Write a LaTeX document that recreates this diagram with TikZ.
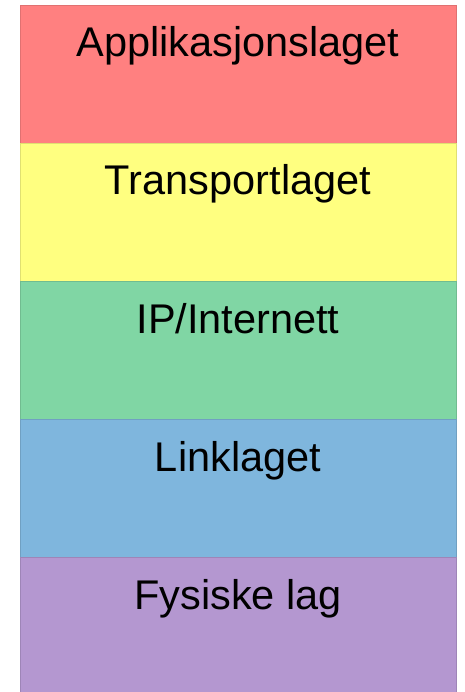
\documentclass[tikz,border=0pt]{standalone}
\usepackage{fontspec}
\setmainfont{Liberation Sans}
\usepackage{tikz}
\usetikzlibrary{positioning}
\definecolor{appc}{RGB}{255,128,128}
\definecolor{trpc}{RGB}{255,255,128}
\definecolor{ipc}{RGB}{128,214,164}
\definecolor{lnkc}{RGB}{127,182,221}
\definecolor{fysc}{RGB}{180,151,208}

\begin{document}
\begin{tikzpicture}[x=1pt,y=1pt,
  layer/.style={draw=#1!88!black,fill=#1,line width=0.4pt,minimum width=436pt,minimum height=138pt,inner sep=0pt,anchor=north,outer sep=0pt},
  lbl/.style={font=\fontsize{41.5}{48}\selectfont,anchor=base,inner sep=0pt}]
  \useasboundingbox (0,0) rectangle (464,-692);
  % the five layers, top to bottom
  \foreach \i/\n/\c/\t in {0/app/appc/{Applikasjonslaget},1/trp/trpc/{Transportlaget},2/ip/ipc/{IP/Internett},3/lnk/lnkc/{Linklaget},4/fys/fysc/{Fysiske lag}} {
    \node[layer=\c] (\n) at (238,-5-138*\i) {};
    \node[lbl] (\n-txt) at ([yshift=-52pt]\n.north) {\t};
  }
\end{tikzpicture}
\end{document}
